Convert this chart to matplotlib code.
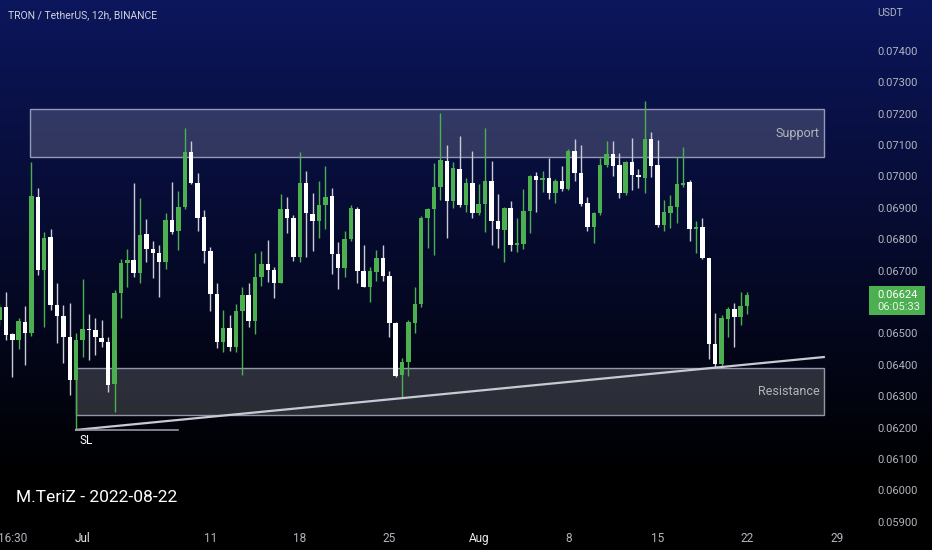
import numpy as np
import matplotlib.pyplot as plt
import matplotlib.dates as mdates
import matplotlib.transforms as mtransforms
import pandas as pd
from matplotlib.patches import Rectangle

plt.rcParams["font.family"] = ["Roboto", "DejaVu Sans"]

# TRX/USDT, 12h candles, the first one opens 2022-06-24 12:00
first_candle = "2022-06-24 12:00"

opens = [0.06543, 0.06585, 0.06498, 0.06479, 0.06538, 0.06503, 0.06936, 0.06702, 0.06807, 0.06591,
         0.06556, 0.06490, 0.06352, 0.06479, 0.06514, 0.06511, 0.06487, 0.06474, 0.06339, 0.06628,
         0.06724, 0.06734, 0.06694, 0.06816, 0.06768, 0.06755, 0.06729, 0.06861, 0.06826, 0.06902,
         0.07079, 0.06980, 0.06870, 0.06763, 0.06626, 0.06474, 0.06518, 0.06458, 0.06573, 0.06624,
         0.06540, 0.06679, 0.06721, 0.06702, 0.06662, 0.06896, 0.06869, 0.06745, 0.06980, 0.06881,
         0.06859, 0.06908, 0.06938, 0.06753, 0.06708, 0.06801, 0.06897, 0.06699, 0.06649, 0.06697,
         0.06739, 0.06683, 0.06534, 0.06368, 0.06410, 0.06534, 0.06594, 0.06867, 0.06896, 0.06968,
         0.07050, 0.06923, 0.07025, 0.06909, 0.06980, 0.06883, 0.06911, 0.06986, 0.06859, 0.06830,
         0.06899, 0.06782, 0.06785, 0.06891, 0.07002, 0.06989, 0.06996, 0.06946, 0.06987, 0.06959,
         0.07081, 0.07010, 0.06915, 0.06838, 0.06883, 0.07037, 0.07071, 0.07037, 0.06948, 0.07047,
         0.07005, 0.06996, 0.07118, 0.07037, 0.06846, 0.06885, 0.06904, 0.06973, 0.06982, 0.06832,
         0.06838, 0.06739, 0.06467, 0.06403, 0.06545, 0.06578, 0.06553, 0.06588]

highs = [0.06597, 0.06633, 0.06501, 0.06548, 0.06588, 0.07047, 0.06962, 0.06824, 0.06832, 0.06662,
         0.06591, 0.06596, 0.06501, 0.06673, 0.06562, 0.06548, 0.06543, 0.06490, 0.06639, 0.06736,
         0.06768, 0.06978, 0.06931, 0.06864, 0.06795, 0.06782, 0.06885, 0.06982, 0.06955, 0.07154,
         0.07113, 0.07010, 0.06893, 0.06776, 0.06662, 0.06575, 0.06559, 0.06593, 0.06647, 0.06660,
         0.06755, 0.06764, 0.06798, 0.06713, 0.06943, 0.06936, 0.06876, 0.07079, 0.07018, 0.06948,
         0.06986, 0.07033, 0.06962, 0.06790, 0.06827, 0.06909, 0.06904, 0.06782, 0.06711, 0.06766,
         0.06782, 0.06700, 0.06536, 0.06423, 0.06543, 0.06649, 0.06874, 0.06899, 0.07044, 0.07203,
         0.07100, 0.07047, 0.07130, 0.06994, 0.07082, 0.06976, 0.07154, 0.07049, 0.06944, 0.06902,
         0.06923, 0.06867, 0.06960, 0.07005, 0.07015, 0.07018, 0.07058, 0.06991, 0.07034, 0.07087,
         0.07118, 0.07100, 0.06936, 0.06888, 0.07058, 0.07114, 0.07114, 0.07074, 0.07049, 0.07122,
         0.07023, 0.07241, 0.07143, 0.07116, 0.06925, 0.06941, 0.07061, 0.07095, 0.06989, 0.06858,
         0.06867, 0.06741, 0.06566, 0.06559, 0.06583, 0.06596, 0.06633, 0.06633]

lows = [0.06527, 0.06479, 0.06362, 0.06450, 0.06400, 0.06492, 0.06686, 0.06520, 0.06575, 0.06469,
        0.06407, 0.06304, 0.06193, 0.06426, 0.06416, 0.06432, 0.06456, 0.06315, 0.06251, 0.06548,
        0.06648, 0.06679, 0.06660, 0.06729, 0.06676, 0.06615, 0.06705, 0.06817, 0.06766, 0.06896,
        0.06975, 0.06827, 0.06724, 0.06573, 0.06453, 0.06442, 0.06445, 0.06442, 0.06368, 0.06520,
        0.06497, 0.06651, 0.06665, 0.06612, 0.06660, 0.06821, 0.06732, 0.06727, 0.06745, 0.06764,
        0.06803, 0.06832, 0.06689, 0.06642, 0.06679, 0.06796, 0.06662, 0.06647, 0.06599, 0.06668,
        0.06668, 0.06490, 0.06362, 0.06299, 0.06365, 0.06503, 0.06585, 0.06773, 0.06750, 0.06925,
        0.06803, 0.06899, 0.06902, 0.06888, 0.06867, 0.06877, 0.06824, 0.06782, 0.06771, 0.06729,
        0.06764, 0.06761, 0.06768, 0.06819, 0.06888, 0.06952, 0.06927, 0.06915, 0.06955, 0.06957,
        0.06987, 0.06906, 0.06827, 0.06787, 0.06877, 0.07029, 0.07002, 0.06931, 0.06941, 0.06957,
        0.06964, 0.06948, 0.06997, 0.06838, 0.06826, 0.06835, 0.06851, 0.06966, 0.06796, 0.06755,
        0.06736, 0.06418, 0.06391, 0.06394, 0.06488, 0.06456, 0.06527, 0.06562]

closes = [0.06584, 0.06495, 0.06479, 0.06541, 0.06503, 0.06938, 0.06702, 0.06805, 0.06591, 0.06557,
          0.06490, 0.06352, 0.06479, 0.06514, 0.06510, 0.06488, 0.06474, 0.06336, 0.06628, 0.06724,
          0.06734, 0.06694, 0.06814, 0.06768, 0.06755, 0.06729, 0.06861, 0.06824, 0.06902, 0.07079,
          0.06980, 0.06869, 0.06762, 0.06626, 0.06474, 0.06518, 0.06458, 0.06573, 0.06624, 0.06540,
          0.06679, 0.06721, 0.06702, 0.06662, 0.06896, 0.06869, 0.06743, 0.06980, 0.06883, 0.06859,
          0.06908, 0.06936, 0.06752, 0.06708, 0.06801, 0.06900, 0.06699, 0.06649, 0.06699, 0.06739,
          0.06683, 0.06532, 0.06365, 0.06410, 0.06538, 0.06594, 0.06867, 0.06896, 0.06968, 0.07053,
          0.06923, 0.07026, 0.06909, 0.06980, 0.06883, 0.06911, 0.06987, 0.06859, 0.06832, 0.06899,
          0.06782, 0.06787, 0.06891, 0.07002, 0.06989, 0.06996, 0.06946, 0.06987, 0.06959, 0.07082,
          0.07010, 0.06912, 0.06840, 0.06885, 0.07037, 0.07071, 0.07033, 0.06948, 0.07047, 0.07005,
          0.06997, 0.07118, 0.07034, 0.06846, 0.06886, 0.06906, 0.06975, 0.06980, 0.06832, 0.06840,
          0.06739, 0.06467, 0.06403, 0.06548, 0.06578, 0.06553, 0.06588, 0.06624]

# drawings on the chart
support_zone = (0.07063, 0.07214)
resistance_zone = (0.06240, 0.06389)
support_start = "2022-06-26 22:00"
resistance_start = "2022-06-30 12:00"
zone_end = "2022-08-28 00:00"

trend_dates = ["2022-06-30 12:00", "2022-08-28 00:00"]
trend_prices = [0.06193, 0.06425]
sl_dates = ["2022-06-30 12:00", "2022-07-08 11:00"]
sl_price = 0.06193

countdown = "06:05:33"

tick_dates = ["2022-06-25 13:00", "2022-07-01 00:00", "2022-07-11 00:00", "2022-07-18 00:00",
              "2022-07-25 00:00", "2022-08-01 00:00", "2022-08-08 00:00", "2022-08-15 00:00",
              "2022-08-22 00:00", "2022-08-29 00:00"]
tick_labels = ["16:30", "Jul", "11", "18", "25", "Aug", "8", "15", "22", "29"]
price_ticks = [0.074, 0.073, 0.072, 0.071, 0.070, 0.069, 0.068, 0.067,
               0.065, 0.064, 0.063, 0.062, 0.061, 0.060, 0.059]


def d2n(d):
    return mdates.date2num(pd.to_datetime(d, format="ISO8601"))


W, H = 932, 550
fig = plt.figure(figsize=(W / 100, H / 100), dpi=100)

# navy -> black background
bg = fig.add_axes([0, 0, 1, 1], zorder=0)
rows = np.linspace(0, 1, H)[:, None]
fade = np.clip(1 - rows / 0.87, 0, 1)
top_col = np.array([12, 22, 92]) / 255
bg.imshow(top_col[None, None, :] * fade[:, :, None], aspect="auto",
          extent=[0, 1, 0, 1], origin="upper")
bg.axis("off")

ax = fig.add_axes([0, 25 / H, 862 / W, 525 / H], zorder=1)
ax.patch.set_alpha(0)

times = pd.date_range(first_candle, periods=len(closes), freq="12h")
x = mdates.date2num(times.to_pydatetime())
o, h, l, c = map(np.array, (opens, highs, lows, closes))
up = c >= o

ax.vlines(x, l, h, colors=np.where(up, "#4caf50", "#c9ccd6"), lw=1, zorder=3)
ax.bar(x, np.abs(c - o), bottom=np.minimum(o, c), width=0.35,
       color=np.where(up, "#4caf50", "#ffffff"), lw=0, zorder=4)

# zones
for start, (lo, hi) in [(support_start, support_zone), (resistance_start, resistance_zone)]:
    x0 = d2n(start)
    ax.add_patch(Rectangle((x0, lo), d2n(zone_end) - x0, hi - lo,
                           facecolor=(1, 1, 1, 0.17), edgecolor=(0.78, 0.8, 0.88, 0.7),
                           lw=1, zorder=2))
ax.text(d2n(zone_end) - 0.3, sum(support_zone) / 2, "Support", ha="right", va="center",
        color="#b2b5be", fontsize=9, zorder=6)
ax.text(d2n(zone_end) - 0.3, sum(resistance_zone) / 2, "Resistance", ha="right", va="center",
        color="#b2b5be", fontsize=9, zorder=6)

# trend line and stop loss
ax.plot(d2n(trend_dates), trend_prices, color="#c8cad3", lw=1.6, zorder=5)
ax.plot(d2n(sl_dates), [sl_price, sl_price], color="#9598a1", lw=1.2, zorder=5)
ax.text(d2n("2022-06-30 19:00"), 0.06158, "SL", ha="left", va="center",
        color="#ffffff", fontsize=8.5, zorder=6)

ax.set_xlim(x[0] + 0.04, x[0] + 67.49)
ax.set_ylim(0.058901, 0.075621)
for s in ax.spines.values():
    s.set_visible(False)

ax.yaxis.tick_right()
ax.set_yticks(price_ticks, labels=[f"{p:.5f}" for p in price_ticks])
ax.tick_params(axis="y", length=0, pad=10.8, labelsize=8, labelcolor="#b2b5be")
ax.set_xticks(d2n(tick_dates), labels=tick_labels)
ax.tick_params(axis="x", length=0, pad=5, labelsize=8.5, labelcolor="#b2b5be")
for lbl in ax.get_xticklabels():
    if lbl.get_text() in ("Jul", "Aug"):
        lbl.set_color("#e6e8ee")

# last price tag on the price scale
trans = mtransforms.blended_transform_factory(fig.transFigure, ax.transData)
px = 31400.0  # pixels per 1.0 price, only for sizing the tag
ax.add_patch(Rectangle((869 / W, c[-1] - 20.4 / px), 56 / W, 29 / px, transform=trans,
                       facecolor="#4caf50", lw=0, clip_on=False, zorder=7))
ax.text(877 / W, c[-1], f"{c[-1]:.5f}", transform=trans, va="center", ha="left",
        color="#ffffff", fontsize=8, clip_on=False, zorder=8)
ax.text(877 / W, c[-1] - 12.4 / px, countdown, transform=trans, va="center", ha="left",
        color="#e8f5e9", fontsize=8, clip_on=False, zorder=8)

fig.text(8 / W, 1 - 15 / H, "TRON / TetherUS, 12h, BINANCE", ha="left", va="center",
         color="#d1d4dc", fontsize=7.5, zorder=5)
fig.text(877 / W, 1 - 13 / H, "USDT", ha="left", va="center", color="#b2b5be",
         fontsize=7.5, zorder=5)
fig.text(16 / W, 1 - 498 / H, "M.TeriZ - 2022-08-22", ha="left", va="center",
         color="#ffffff", fontsize=12.5, zorder=5)

fig.savefig("out.png", dpi=100)
